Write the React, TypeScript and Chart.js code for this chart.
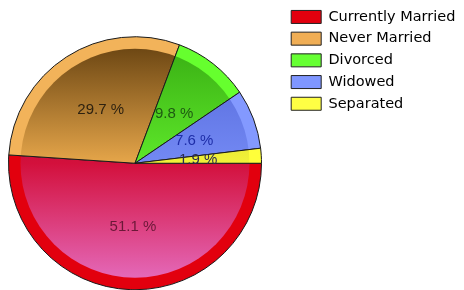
import React, { useEffect, useRef } from "react";
import { Chart, registerables } from "chart.js";

Chart.register(...registerables);

const categories = ["Currently Married", "Never Married", "Divorced", "Widowed", "Separated"];
const percentages = [51.1, 29.7, 9.8, 7.6, 1.9];

const legendColors = ["#E2000E", "#F0AE55", "#66FF33", "#7F96FF", "#FFFF44"];
const rimColors = ["#E2000E", "#F2B35A", "#66FF2E", "#8399FF", "#FFFF3A"];
const innerTop = ["#9A0C28", "#6E4814", "#3AB014", "#5468D8", "#C0C010"];
const innerMid = ["#D3103C", "#E6A64A", "#5EE82A", "#7389F4", "#F2F23A"];
const innerBottom = ["#E468B8", "#F6CC80", "#A0FF70", "#A8B8FF", "#FFFF9A"];
const labelColors = ["#6B1838", "#2E2210", "#1E5A12", "#1E2EA8", "#2A2A50"];

const PIE_RADIUS = 126.5;
const RIM = 12;

const patternCache: Record<string, CanvasPattern | string> = {};

function slicePattern(chart: any, i: number): CanvasPattern | string {
  const area = chart.chartArea;
  if (!area) return rimColors[i];
  const cx = (area.left + area.right) / 2;
  const cy = (area.top + area.bottom) / 2;
  const key = `${i}|${chart.width}|${chart.height}|${cx}|${cy}`;
  if (patternCache[key]) return patternCache[key];
  const off = document.createElement("canvas");
  off.width = chart.width;
  off.height = chart.height;
  const c = off.getContext("2d")!;
  c.fillStyle = rimColors[i];
  c.fillRect(0, 0, off.width, off.height);
  const ri = PIE_RADIUS - RIM;
  const g = c.createLinearGradient(0, cy - ri, 0, cy + ri);
  g.addColorStop(0, innerTop[i]);
  g.addColorStop(0.5, innerMid[i]);
  g.addColorStop(1, innerBottom[i]);
  c.beginPath();
  c.arc(cx, cy, ri, 0, Math.PI * 2);
  c.fillStyle = g;
  c.fill();
  const p = chart.ctx.createPattern(off, "no-repeat");
  patternCache[key] = p || rimColors[i];
  return patternCache[key];
}

const sliceLabels = {
  id: "sliceLabels",
  afterDatasetsDraw(chart: any) {
    const ctx = chart.ctx;
    const meta = chart.getDatasetMeta(0);
    ctx.save();
    ctx.font = "15px 'Liberation Sans', Arial, sans-serif";
    ctx.textAlign = "center";
    ctx.textBaseline = "middle";
    meta.data.forEach((arc: any, i: number) => {
      const p = arc.getCenterPoint();
      ctx.fillStyle = labelColors[i];
      ctx.fillText(percentages[i].toFixed(1) + " %", p.x, p.y);
    });
    ctx.restore();
  },
};

export default function App() {
  const ref = useRef<HTMLCanvasElement | null>(null);
  useEffect(() => {
    if (!ref.current) return;
    const chart = new Chart(ref.current, {
      type: "pie",
      data: {
        labels: categories,
        datasets: [
          {
            data: percentages,
            backgroundColor: (ctx: any) => slicePattern(ctx.chart, ctx.dataIndex),
            borderColor: "#1a1a1a",
            borderWidth: 1,
            hoverOffset: 0,
          },
        ],
      },
      options: {
        responsive: false,
        animation: false,
        rotation: 90,
        radius: PIE_RADIUS,
        layout: { padding: { top: 2.5, left: 0, right: 6, bottom: 0 } },
        events: [],
        plugins: {
          tooltip: { enabled: false },
          legend: {
            position: "right",
            align: "start",
            maxWidth: 176,
            labels: {
              boxWidth: 30,
              boxHeight: 13,
              padding: 7.2,
              color: "#000",
              font: { family: "'DejaVu Sans', Verdana, sans-serif", size: 14.5 },
              generateLabels: () =>
                categories.map((c, i) => ({
                  text: c,
                  fillStyle: legendColors[i],
                  strokeStyle: "#222",
                  lineWidth: 1,
                  hidden: false,
                  index: i,
                  datasetIndex: 0,
                })),
            },
          },
        },
      } as any,
      plugins: [sliceLabels],
    });
    return () => chart.destroy();
  }, []);
  return (
    <div
      style={{
        position: "fixed",
        left: 0,
        top: 0,
        width: 464,
        height: 290,
        overflow: "hidden",
        background: "#fff",
      }}
    >
      <canvas
        ref={ref}
        width={480}
        height={324}
        style={{ position: "absolute", left: -14, top: 0, width: 480, height: 324 }}
      />
    </div>
  );
}
